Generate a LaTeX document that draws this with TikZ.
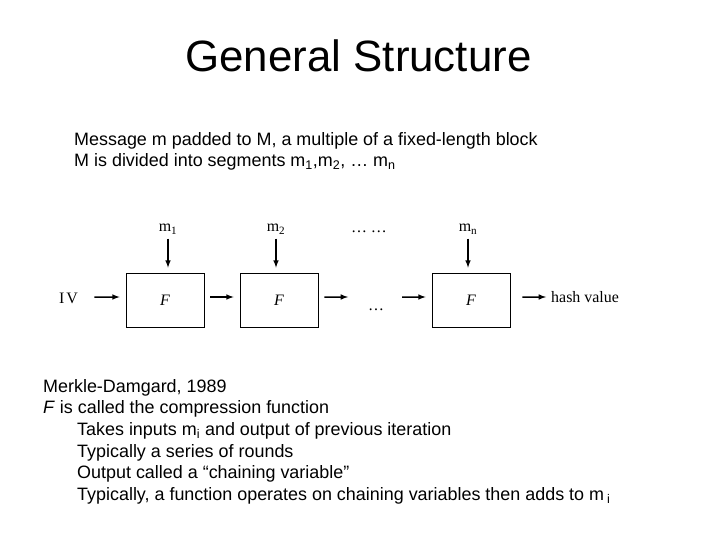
\documentclass[tikz,border=0pt]{standalone}
\usepackage{fontspec}
\setmainfont{Liberation Sans}
\newfontfamily\timesfont{Liberation Serif}
\usetikzlibrary{positioning}

\begin{document}
\begin{tikzpicture}[x=1bp,y=-1bp,
        fbox/.style={draw,line width=0.8bp,minimum width=78bp,minimum height=54bp,inner sep=0pt,
          font=\timesfont\fontsize{16}{18}\selectfont\itshape},
        lbl/.style={font=\timesfont\fontsize{16}{18}\selectfont},
        txt/.style={anchor=base west,inner sep=0pt,font=\fontsize{18}{21}\selectfont},
        flow/.style={line width=1.5bp,-latex}]
        \useasboundingbox (0,0) rectangle (720,540);

        \node[anchor=base,font=\fontsize{44}{50}\selectfont] (title) at (358.5,72) {General Structure};

        \node[txt] (msg) at (74,146) {Message m padded to M, a multiple of a fixed-length block};
        \node[txt] (seg) at (74,167) {M is divided into segments m\textsubscript{1},m\textsubscript{2}, … m\textsubscript{n}};

        \node[fbox] (f1) at (165,300) {F};
        \node[fbox] (f2) at (279,300) {F};
        \node[fbox] (fn) at (471,300) {F};

        \node[lbl] (iv) at (68.5,298) {I\kern2bp V};
        \node[lbl] (m1) at (168,229) {m\textsubscript{1}};
        \node[lbl] (m2) at (276,229) {m\textsubscript{2}};
        \node[lbl] (mn) at (468,229) {m\textsubscript{n}};
        \node[lbl] (mdots) at (369,232) {… …};
        \node[lbl] (gap) at (376,310) {…};
        \node[lbl,anchor=west,inner sep=0pt] (hash) at (551,297) {hash value};

        \coordinate (c2) at (348,297);
        \coordinate (c3) at (402,297);

        \draw[flow,shorten <=13bp,shorten >=6bp] ([yshift=1bp]iv.east) -- ([yshift=3bp]f1.west);
        \draw[flow,shorten <=6bp,shorten >=6bp] ([yshift=3bp]f1.east) -- ([yshift=3bp]f2.west);
        \draw[flow,shorten <=6bp] ([yshift=3bp]f2.east) -- (c2);
        \draw[flow,shorten >=6bp] (c3) -- ([yshift=3bp]fn.west);
        \draw[flow,shorten <=12bp,shorten >=5bp] ([yshift=3bp]fn.east) -- (hash.west);

        \draw[flow,shorten <=1bp,shorten >=5bp] (m1) -- (m1 |- f1.north);
        \draw[flow,shorten <=1bp,shorten >=5bp] (m2) -- (m2 |- f2.north);
        \draw[flow,shorten <=1bp,shorten >=5bp] (mn) -- (mn |- fn.north);

        \node[txt] (mdg) at (43,392) {Merkle-Damgard, 1989};
        \node[txt] (cf) at (43,413) {\textit{F} is called the compression function};
        \node[txt] (t1) at (77,435) {Takes inputs m\textsubscript{i} and output of previous iteration};
        \node[txt] (t2) at (77,457) {Typically a series of rounds};
        \node[txt] (t3) at (77,478) {Output called a “chaining variable”};
        \node[txt] (t4) at (77,500) {Typically, a function operates on chaining variables then adds to m\,\textsubscript{i}};
      \end{tikzpicture}
\end{document}
